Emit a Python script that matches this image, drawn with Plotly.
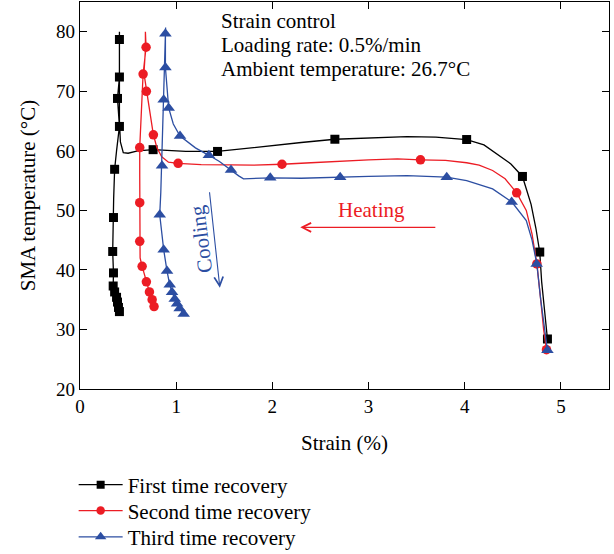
import plotly.graph_objects as go

FONT = "Liberation Serif"
BLACK = "#000000"
RED = "#ec1c24"
BLUE = "#2c4ea2"

# ---- First time recovery (black squares) ----
first_heat_strain = [4.86, 4.83, 4.80, 4.78, 4.74, 4.69, 4.60, 4.48, 4.35, 4.20, 4.02, 3.70, 3.40,
                     3.00, 2.65, 2.30, 2.00, 1.70, 1.43, 1.10, 0.76, 0.60, 0.50, 0.45, 0.42, 0.41,
                     0.41, 0.41]
first_heat_temp = [28.4, 33.0, 38.0, 43.0, 47.0, 51.0, 55.7, 57.8, 59.3, 61.0, 61.9, 62.3, 62.4,
                   62.1, 61.95, 61.4, 60.9, 60.3, 59.9, 59.9, 60.2, 60.0, 59.6, 59.7, 61.5, 65.0,
                   72.0, 80.0]
first_cool_strain = [0.41, 0.41, 0.41, 0.39, 0.41, 0.38, 0.36, 0.35, 0.348, 0.34, 0.348, 0.345,
                     0.36, 0.38, 0.39, 0.40, 0.41]
first_cool_temp = [80.0, 78.7, 72.4, 68.8, 64.1, 60.0, 56.9, 52.0, 48.8, 43.1, 39.5, 37.3, 36.3,
                   35.4, 34.6, 33.7, 33.0]
first_mark_strain = [4.86, 4.78, 4.60, 4.02, 2.65, 1.43, 0.76, 0.41, 0.41, 0.39, 0.41, 0.36,
                     0.348, 0.34, 0.348, 0.345, 0.36, 0.38, 0.39, 0.40, 0.41]
first_mark_temp = [28.4, 43.0, 55.7, 61.9, 61.95, 59.9, 60.2, 78.7, 72.4, 68.8, 64.1, 56.9, 48.8,
                   43.1, 39.5, 37.3, 36.3, 35.4, 34.6, 33.7, 33.0]

# ---- Second time recovery (red circles) ----
second_heat_strain = [4.85, 4.82, 4.79, 4.75, 4.70, 4.64, 4.54, 4.42, 4.29, 4.15, 4.02, 3.80,
                      3.54, 3.30, 3.00, 2.70, 2.40, 2.10, 1.80, 1.56, 1.26, 1.02, 0.92, 0.85,
                      0.80, 0.763, 0.73, 0.69, 0.665, 0.68, 0.68]
second_heat_temp = [26.6, 30.0, 35.0, 41.0, 46.0, 50.0, 52.95, 55.3, 56.7, 57.6, 58.0, 58.4,
                    58.5, 58.65, 58.5, 58.3, 58.0, 57.75, 57.6, 57.65, 57.7, 57.9, 58.1, 59.0,
                    60.5, 62.7, 66.0, 70.0, 73.0, 77.0, 80.0]
second_cool_strain = [0.68, 0.687, 0.656, 0.64, 0.63, 0.621, 0.621, 0.621, 0.621, 0.625, 0.646,
                      0.69, 0.722, 0.75, 0.77]
second_cool_temp = [80.0, 77.4, 72.9, 67.0, 63.0, 60.55, 56.0, 51.3, 44.8, 42.0, 40.6, 38.0,
                    36.3, 35.0, 33.85]
second_mark_strain = [4.85, 4.75, 4.54, 3.54, 2.10, 1.02, 0.763, 0.69, 0.687, 0.656, 0.621,
                      0.621, 0.621, 0.646, 0.69, 0.722, 0.75, 0.77]
second_mark_temp = [26.6, 41.0, 52.95, 58.5, 57.75, 57.9, 62.7, 70.0, 77.4, 72.9, 60.55, 51.3,
                    44.8, 40.6, 38.0, 36.3, 35.0, 33.85]

# ---- Third time recovery (blue triangles) ----
third_heat_strain = [4.86, 4.83, 4.79, 4.75, 4.70, 4.64, 4.49, 4.29, 4.02, 3.81, 3.40, 3.00,
                     2.70, 2.30, 1.98, 1.80, 1.70, 1.65, 1.57, 1.45, 1.34, 1.20, 1.04, 0.97,
                     0.922, 0.90, 0.888, 0.888, 0.89]
third_heat_temp = [26.5, 30.0, 35.0, 41.0, 45.0, 48.3, 51.4, 53.6, 55.0, 55.57, 55.85, 55.7,
                   55.57, 55.4, 55.47, 55.35, 55.3, 55.8, 56.8, 58.2, 59.25, 60.5, 62.5, 64.5,
                   67.2, 71.0, 74.0, 79.65, 80.7]
third_cool_strain = [0.89, 0.88, 0.87, 0.86, 0.853, 0.84, 0.829, 0.85, 0.87, 0.905, 0.933,
                     0.957, 0.985, 1.009, 1.036, 1.078]
third_cool_temp = [80.7, 75.0, 68.6, 63.0, 57.5, 53.0, 49.25, 46.0, 43.4, 39.8, 37.5, 36.25,
                   35.1, 34.3, 33.5, 32.6]
third_mark_strain = [4.86, 4.748, 4.488, 3.813, 2.705, 1.978, 1.57, 1.34, 1.04, 0.922, 0.888,
                     0.888, 0.87, 0.853, 0.829, 0.87, 0.905, 0.933, 0.957, 0.985, 1.009, 1.036,
                     1.078]
third_mark_temp = [26.5, 41.0, 51.4, 55.57, 55.57, 55.47, 56.8, 59.25, 62.5, 67.2, 74.0, 79.65,
                   68.6, 57.5, 49.25, 43.4, 39.8, 37.5, 36.25, 35.1, 34.3, 33.5, 32.6]

series = [
    ("First time recovery", BLACK, "square", 9, "legend",
     first_heat_strain, first_heat_temp, first_cool_strain, first_cool_temp,
     first_mark_strain, first_mark_temp),
    ("Second time recovery", RED, "circle", 9.5, "legend2",
     second_heat_strain, second_heat_temp, second_cool_strain, second_cool_temp,
     second_mark_strain, second_mark_temp),
    ("Third time recovery", BLUE, "triangle-up", 11, "legend3",
     third_heat_strain, third_heat_temp, third_cool_strain, third_cool_temp,
     third_mark_strain, third_mark_temp),
]

fig = go.Figure()
for name, color, symbol, size, leg, hx, hy, cx, cy, mx, my in series:
    # heating path followed by the cooling path, joined at the top
    fig.add_trace(go.Scatter(x=hx + cx, y=hy + cy, mode="lines",
                             line=dict(color=color, width=1.3),
                             showlegend=False, hoverinfo="skip"))
    fig.add_trace(go.Scatter(x=mx, y=my, mode="markers",
                             marker=dict(color=color, symbol=symbol, size=size,
                                         line=dict(width=0)),
                             showlegend=False))
    # legend entry
    fig.add_trace(go.Scatter(x=[None], y=[None], mode="lines+markers", name=name, legend=leg,
                             line=dict(color=color, width=1.3),
                             marker=dict(color=color, symbol=symbol, size=size - 1)))

text_lines = ["Strain control", "Loading rate: 0.5%/min", "Ambient temperature: 26.7°C"]
text_y = [81.8, 77.85, 73.8]
for t, yy in zip(text_lines, text_y):
    fig.add_annotation(x=1.45, y=yy, xref="x", yref="y", text=t, showarrow=False,
                       xanchor="left", yanchor="middle",
                       font=dict(family=FONT, size=21, color="black"))

# Heating arrow and label
fig.add_annotation(x=2.29, y=47.15, ax=3.71, ay=47.15, xref="x", yref="y", axref="x", ayref="y",
                   text="", showarrow=True, arrowhead=5, arrowsize=1.6, arrowwidth=1.1,
                   arrowcolor=RED)
fig.add_annotation(x=3.03, y=50.1, xref="x", yref="y", text="Heating", showarrow=False,
                   font=dict(family=FONT, size=21, color=RED))

# Cooling arrow and label
fig.add_annotation(x=1.454, y=37.0, ax=1.345, ay=53.3, xref="x", yref="y", axref="x", ayref="y",
                   text="", showarrow=True, arrowhead=5, arrowsize=1.6, arrowwidth=1.1,
                   arrowcolor=BLUE)
fig.add_annotation(x=1.255, y=45.1, xref="x", yref="y", text="Cooling", showarrow=False,
                   textangle=-97, font=dict(family=FONT, size=21, color=BLUE))

axis_common = dict(showline=True, linecolor="black", linewidth=1.2, mirror="ticks",
                   ticks="inside", ticklen=7, tickwidth=1.2, tickcolor="black",
                   showgrid=False, zeroline=False,
                   tickfont=dict(family=FONT, size=19, color="black"))

fig.update_xaxes(range=[0, 5.5], tickvals=[0, 1, 2, 3, 4, 5],
                 title=dict(text="Strain (%)", font=dict(family=FONT, size=21, color="black"),
                            standoff=19),
                 **axis_common)
fig.update_yaxes(range=[20, 85], tickvals=[20, 30, 40, 50, 60, 70, 80],
                 title=dict(text="SMA temperature (°C)",
                            font=dict(family=FONT, size=21, color="black"), standoff=14),
                 **axis_common)

legend_common = dict(x=-0.012, xanchor="left", yanchor="middle", bgcolor="rgba(0,0,0,0)",
                     font=dict(family=FONT, size=21, color="black"), itemwidth=44)

fig.update_layout(
    width=614, height=554,
    margin=dict(l=80, r=5, t=2, b=165, autoexpand=False),
    plot_bgcolor="white", paper_bgcolor="white",
    font=dict(family=FONT, size=20, color="black"),
    legend=dict(y=-0.248, **legend_common),
    legend2=dict(y=-0.315, **legend_common),
    legend3=dict(y=-0.383, **legend_common),
)

fig.write_html("out.html")
